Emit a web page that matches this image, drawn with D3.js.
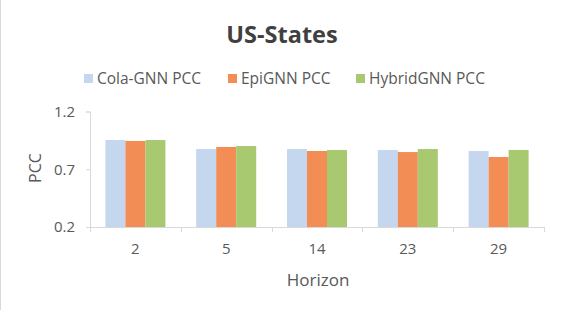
<!DOCTYPE html>
<html>
<head>
<meta charset="utf-8">
<script src="https://cdn.jsdelivr.net/npm/d3@7"></script>
<style>
  body { margin: 0; background: #fff; }
  text { font-family: "Open Sans", "Noto Sans", sans-serif; }
</style>
</head>
<body>
<div id="chart"></div>
<script>
// chart data
var horizons = ["2", "5", "14", "23", "29"];
var seriesNames = ["Cola-GNN PCC", "EpiGNN PCC", "HybridGNN PCC"];
var colaPCC = [0.953, 0.875, 0.875, 0.867, 0.858];
var epiPCC = [0.945, 0.893, 0.858, 0.849, 0.806];
var hybridPCC = [0.953, 0.901, 0.867, 0.875, 0.867];
var yTicks = [0.2, 0.7, 1.2];

var colors = ["#C5D6EF", "#F18D55", "#A9C971"];
var allSeries = [colaPCC, epiPCC, hybridPCC];

var chart_width = 563;
var chart_height = 310;

var svg = d3.select("#chart").append("svg")
  .attr("width", chart_width)
  .attr("height", chart_height);

// light frame on left edge like the original export
svg.append("line")
  .attr("x1", 0.5).attr("x2", 0.5)
  .attr("y1", 0).attr("y2", chart_height)
  .attr("stroke", "#D9D9D9");

var x0 = d3.scaleBand().domain(horizons).range([90, 544]);
var x1 = d3.scaleBand().domain(seriesNames).range([0, x0.bandwidth()]).paddingOuter(0.77);
var y = d3.scaleLinear().domain([0.2, 1.2]).range([227, 111.5]);

// title
svg.append("text")
  .attr("x", 282).attr("y", 43)
  .attr("text-anchor", "middle")
  .attr("font-size", 23.5).attr("font-weight", "bold")
  .attr("fill", "#404040")
  .text("US-States");

// legend
var legendX = [84, 228, 356];
var legend = svg.selectAll(".legend").data(seriesNames).enter().append("g")
  .attr("transform", function(d, i) { return "translate(" + legendX[i] + ",74)"; });
legend.append("rect").attr("width", 9).attr("height", 9)
  .attr("fill", function(d, i) { return colors[i]; });
legend.append("text").attr("x", 13).attr("y", 9.5)
  .attr("font-size", 15.5).attr("fill", "#595959")
  .text(function(d) { return d; });

// bars
var groups = svg.selectAll(".grp").data(horizons).enter().append("g")
  .attr("transform", function(d) { return "translate(" + x0(d) + ",0)"; });
groups.selectAll("rect")
  .data(function(d, i) { return allSeries.map(function(s, k) { return {name: seriesNames[k], v: s[i], k: k}; }); })
  .enter().append("rect")
  .attr("x", function(d) { return x1(d.name); })
  .attr("width", x1.bandwidth())
  .attr("y", function(d) { return y(d.v); })
  .attr("height", function(d) { return y(0.2) - y(d.v); })
  .attr("fill", function(d) { return colors[d.k]; });

// y axis
var yAxis = svg.append("g").attr("transform", "translate(90,0)")
  .call(d3.axisLeft(y).tickValues(yTicks).tickSize(4).tickPadding(11).tickFormat(d3.format(".1f")));
yAxis.select(".domain").attr("stroke", "#D9D9D9");
yAxis.selectAll(".tick line").attr("stroke", "#D9D9D9");
yAxis.selectAll(".tick text").attr("font-size", 15).attr("fill", "#595959")
  .style("font-family", "'Open Sans', sans-serif");

// x axis
var xAxis = svg.append("g").attr("transform", "translate(0,227)")
  .call(d3.axisBottom(x0).tickSize(0).tickPadding(16));
xAxis.select(".domain").attr("stroke", "#D9D9D9").attr("d", "M90,0.5H544");
xAxis.selectAll(".tick text").attr("font-size", 15).attr("fill", "#595959")
  .style("font-family", "'Open Sans', sans-serif");
var edges = horizons.map(function(h) { return x0(h); }).concat([x0.range()[1]]);
xAxis.selectAll(".edge").data(edges).enter().append("line")
  .attr("x1", function(d) { return Math.round(d) + 0.5; })
  .attr("x2", function(d) { return Math.round(d) + 0.5; })
  .attr("y1", 0).attr("y2", 5)
  .attr("stroke", "#D9D9D9");

// axis titles
svg.append("text")
  .attr("transform", "translate(41,168) rotate(-90)")
  .attr("text-anchor", "middle")
  .attr("font-size", 16).attr("fill", "#595959")
  .text("PCC");
svg.append("text")
  .attr("x", 318).attr("y", 286)
  .attr("text-anchor", "middle")
  .attr("font-size", 17).attr("fill", "#595959")
  .text("Horizon");
</script>
</body>
</html>
